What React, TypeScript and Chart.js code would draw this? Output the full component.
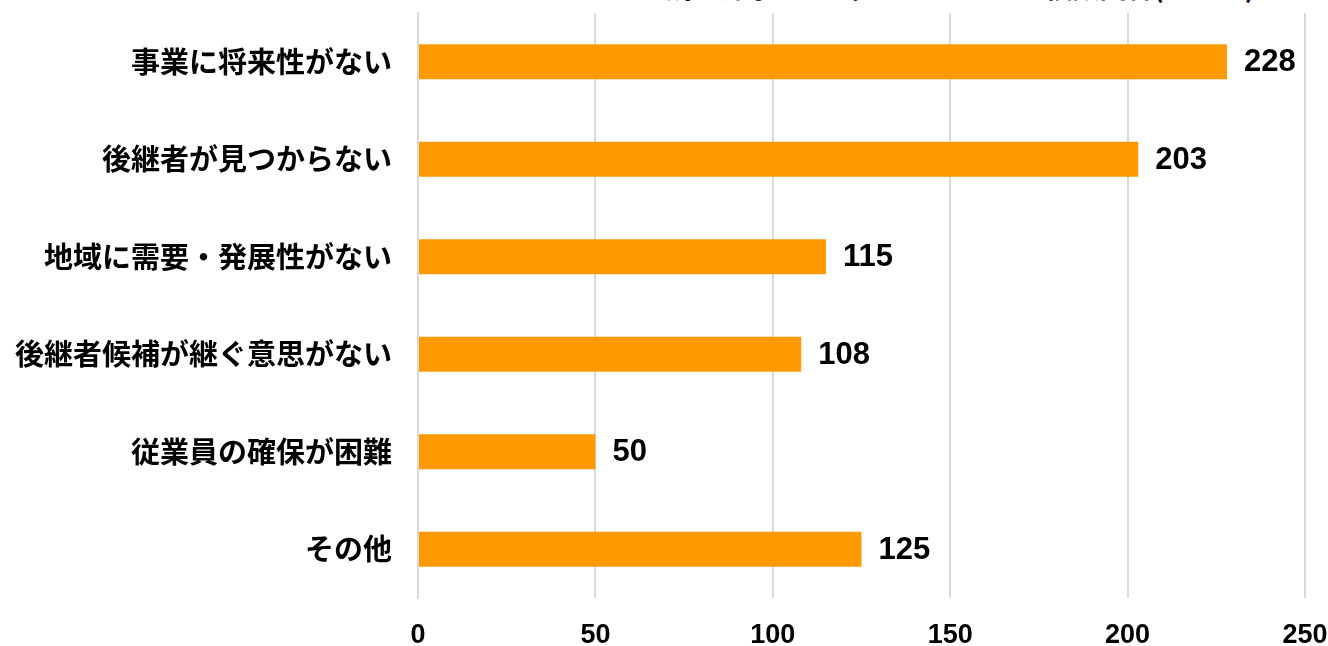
import React, { useEffect, useRef } from "react";
import { Chart, registerables } from "chart.js";

Chart.register(...registerables);

const categories = [
  "事業に将来性がない",
  "後継者が見つからない",
  "地域に需要・発展性がない",
  "後継者候補が継ぐ意思がない",
  "従業員の確保が困難",
  "その他",
];
const counts = [228, 203, 115, 108, 50, 125];
const xTicks = [0, 50, 100, 150, 200, 250];
const titleLeft = "調査対象：660社";
const titleRight = "複数回答(n=327)";

const BAR_COLOR = "#FF9900";
const GRID_COLOR = "#D9D9D9";
const NUM_FONT = "'Liberation Sans', Arial, sans-serif";
const JP_FONT = "'Noto Sans CJK JP', 'Noto Sans', sans-serif";

const valueLabels = {
  id: "valueLabels",
  afterDatasetsDraw(chart: any) {
    const ctx = chart.ctx;
    const meta = chart.getDatasetMeta(0);
    ctx.save();
    ctx.font = `bold 31px ${NUM_FONT}`;
    ctx.fillStyle = "#000";
    ctx.textAlign = "left";
    ctx.textBaseline = "middle";
    meta.data.forEach((bar: any, i: number) => {
      ctx.fillText(String(counts[i]), bar.x + 17, bar.y + 1);
    });
    ctx.restore();
  },
};

export default function App() {
  const ref = useRef<HTMLCanvasElement | null>(null);
  useEffect(() => {
    if (!ref.current) return;
    const chart = new Chart(ref.current, {
      type: "bar",
      data: {
        labels: categories,
        datasets: [
          {
            data: counts,
            backgroundColor: BAR_COLOR,
            borderWidth: 0,
            barPercentage: 0.6,
            categoryPercentage: 0.6,
          },
        ],
      },
      options: {
        indexAxis: "y",
        responsive: true,
        maintainAspectRatio: false,
        animation: false,
        layout: { padding: { top: 13, right: 23, left: 0, bottom: 0 } },
        plugins: {
          legend: { display: false },
          tooltip: { enabled: false },
          title: { display: false },
        },
        scales: {
          x: {
            min: 0,
            max: 250,
            afterBuildTicks(scale: any) {
              scale.ticks = xTicks.map((v) => ({ value: v }));
            },
            afterFit(scale: any) {
              scale.height = 48;
              scale.paddingLeft = 0;
              scale.paddingRight = 0;
            },
            grid: { color: GRID_COLOR, lineWidth: 2, drawTicks: false },
            border: { display: false },
            ticks: {
              padding: 21,
              color: "#000",
              font: { family: NUM_FONT, size: 27, weight: "bold" },
            },
          },
          y: {
            afterFit(scale: any) {
              scale.width = 418;
              scale.paddingTop = 0;
              scale.paddingBottom = 0;
            },
            grid: { display: false, drawTicks: false },
            border: { display: true, color: GRID_COLOR, width: 2 },
            ticks: {
              padding: 26,
              color: "#000",
              font: { family: JP_FONT, size: 29, weight: "bold" },
            },
          },
        },
      },
      plugins: [valueLabels],
    });
    return () => chart.destroy();
  }, []);

  return (
    <div
      style={{
        position: "fixed",
        left: 0,
        top: 0,
        width: 1328,
        height: 646,
        background: "#fff",
        overflow: "hidden",
      }}
    >
      <div
        style={{
          position: "absolute",
          top: -27,
          right: 73,
          fontFamily: JP_FONT,
          fontWeight: "bold",
          fontSize: 27,
          lineHeight: "27px",
          whiteSpace: "pre",
          color: "#000",
        }}
      >
        {titleLeft}
        <span style={{ display: "inline-block", width: 170 }} />
        {titleRight}
      </div>
      <canvas ref={ref} style={{ position: "absolute", left: 0, top: 0 }} />
    </div>
  );
}
